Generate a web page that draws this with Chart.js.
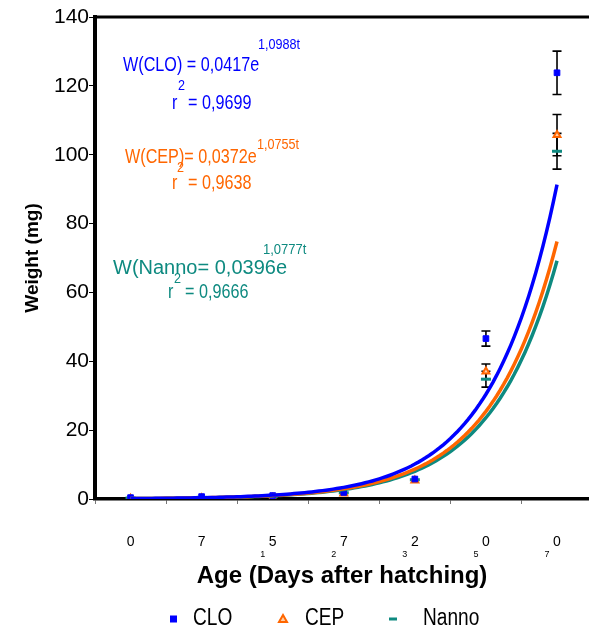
<!DOCTYPE html>
<html>
<head>
<meta charset="utf-8">
<script src="https://cdn.jsdelivr.net/npm/chart.js@4.4.0/dist/chart.umd.min.js"></script>
<style>
  html, body { margin: 0; padding: 0; background: #fff; }
</style>
</head>
<body>
<canvas id="growthChart" width="589" height="630"></canvas>
<script>
// sampling index t (1..7) and the day labels printed under the axis
const ages = [1, 2, 3, 4, 5, 6, 7];
const dayLabels = ["0", "7", "15", "27", "32", "50", "70"];
const yTicks = [0, 20, 40, 60, 80, 100, 120, 140];

// mean larval weight (mg) and error
const cloMean = [0.4, 0.7, 1.0, 1.9, 5.8, 46.6, 123.8];
const cloErr = [0.2, 0.2, 0.2, 0.3, 0.4, 2.2, 6.3];
const cepMean = [0.1, 0.2, 0.3, 1.6, 5.4, 37.0, 105.7];
const cepErr = [0.1, 0.1, 0.1, 0.3, 0.4, 2.2, 6.0];
const nannoMean = [0.3, 0.5, 0.7, 1.8, 5.6, 34.8, 101.0];
const nannoErr = [0.1, 0.1, 0.1, 0.3, 0.4, 2.3, 5.2];

// exponential fits W = a*e^(b*t) as drawn (orange curve sits above teal one)
const fitA = [0.0417, 0.0396, 0.0372];
const fitB = [1.0988, 1.0777, 1.0755];

const BLUE = "#0000ff", ORANGE = "#ff6600", TEAL = "#0e8a80";
const SANS = '"Liberation Sans", Arial, sans-serif';

function fitCurve(k) {
  const pts = [];
  for (let i = 0; i <= 120; i++) {
    const t = 1 + i * 0.05;
    pts.push({ x: t, y: fitA[k] * Math.exp(fitB[k] * t) });
  }
  return pts;
}
function points(arr) { return ages.map((t, i) => ({ x: t, y: arr[i] })); }

// error bars go under the markers
const errorBars = {
  id: "errorBars",
  beforeDatasetsDraw(chart) {
    const { ctx, scales: { x, y } } = chart;
    ctx.save();
    ctx.strokeStyle = "#000";
    ctx.lineWidth = 1.6;
    [[cloMean, cloErr], [cepMean, cepErr], [nannoMean, nannoErr]].forEach(([m, e]) => {
      ages.forEach((t, i) => {
        if (e[i] < 1) return;
        const px = x.getPixelForValue(t);
        const top = y.getPixelForValue(m[i] + e[i]);
        const bot = y.getPixelForValue(m[i] - e[i]);
        ctx.beginPath();
        ctx.moveTo(px, top); ctx.lineTo(px, bot);
        ctx.moveTo(px - 4.5, top); ctx.lineTo(px + 4.5, top);
        ctx.moveTo(px - 4.5, bot); ctx.lineTo(px + 4.5, bot);
        ctx.stroke();
      });
    });
    ctx.restore();
  }
};

// text squeezed horizontally like the original condensed face
function txt(ctx, s, x, y, size, sx, color) {
  ctx.save();
  ctx.font = size + "px " + SANS;
  ctx.fillStyle = color;
  ctx.textAlign = "left";
  ctx.textBaseline = "middle";
  ctx.translate(x, y);
  ctx.scale(sx, 1);
  ctx.fillText(s, 0, 0);
  ctx.restore();
}

const decorations = {
  id: "decorations",
  afterDraw(chart) {
    const { ctx, chartArea, scales: { x } } = chart;
    ctx.save();
    // thick top frame
    ctx.strokeStyle = "#000";
    ctx.lineWidth = 3;
    ctx.beginPath();
    ctx.moveTo(chartArea.left, chartArea.top);
    ctx.lineTo(chart.width, chartArea.top);
    ctx.stroke();

    // small leading digits of the day labels
    ages.forEach((t, i) => {
      const sub = dayLabels[i].slice(0, -1);
      if (!sub) return;
      ctx.font = "9px " + SANS;
      ctx.fillStyle = "#000";
      ctx.textAlign = "center";
      ctx.textBaseline = "middle";
      ctx.fillText(sub, x.getPixelForValue(t) - 10, 555);
    });
    ctx.restore();

    // equations
    txt(ctx, "W(CLO) = 0,0417e", 123, 65, 21, 0.77, BLUE);
    txt(ctx, "1,0988t", 258, 45, 15, 0.84, BLUE);
    txt(ctx, "r", 172, 103, 21, 0.77, BLUE);
    txt(ctx, "2", 178, 86, 15, 0.84, BLUE);
    txt(ctx, "= 0,9699", 188, 103, 21, 0.77, BLUE);

    txt(ctx, "W(CEP)= 0,0372e", 125, 157, 21, 0.77, ORANGE);
    txt(ctx, "1,0755t", 257, 145, 15, 0.84, ORANGE);
    txt(ctx, "r", 172, 183, 21, 0.77, ORANGE);
    txt(ctx, "2", 177, 168, 15, 0.84, ORANGE);
    txt(ctx, "= 0,9638", 188, 183, 21, 0.77, ORANGE);

    txt(ctx, "W(Nanno= 0,0396e", 113, 268, 20, 1, TEAL);
    txt(ctx, "1,0777t", 263, 250, 14, 0.93, TEAL);
    txt(ctx, "r", 168, 292, 21, 0.77, TEAL);
    txt(ctx, "2", 174, 279, 15, 0.84, TEAL);
    txt(ctx, "= 0,9666", 185, 292, 21, 0.77, TEAL);

    // legend
    const ly = 619;
    ctx.save();
    ctx.fillStyle = BLUE;
    ctx.fillRect(170, ly - 3.5, 7, 7);
    ctx.fillStyle = "#ffd0a8";
    ctx.strokeStyle = ORANGE;
    ctx.lineWidth = 2;
    ctx.beginPath();
    ctx.moveTo(283, ly - 4); ctx.lineTo(287, ly + 3); ctx.lineTo(279, ly + 3); ctx.closePath();
    ctx.fill(); ctx.stroke();
    ctx.fillStyle = TEAL;
    ctx.fillRect(389, ly - 1.5, 8, 3);
    ctx.restore();
    txt(ctx, "CLO", 193, ly, 23, 0.83, "#000");
    txt(ctx, "CEP", 305, ly, 23, 0.83, "#000");
    txt(ctx, "Nanno", 423, ly, 23, 0.83, "#000");
  }
};

new Chart(document.getElementById("growthChart"), {
  type: "line",
  data: {
    datasets: [
      { data: fitCurve(0), borderColor: BLUE, borderWidth: 3.5, pointRadius: 0, fill: false },
      { data: fitCurve(1), borderColor: ORANGE, borderWidth: 3.5, pointRadius: 0, fill: false },
      { data: fitCurve(2), borderColor: TEAL, borderWidth: 3.5, pointRadius: 0, fill: false },
      { label: "CLO", data: points(cloMean), showLine: false, pointStyle: "rect",
        pointRadius: 4, backgroundColor: BLUE, borderColor: BLUE, borderWidth: 1 },
      { label: "CEP", data: points(cepMean), showLine: false, pointStyle: "triangle",
        pointRadius: 4, backgroundColor: "#ffd0a8", borderColor: ORANGE, borderWidth: 2 },
      { label: "Nanno", data: points(nannoMean), showLine: false, pointStyle: "line",
        pointRadius: 5, borderColor: TEAL, borderWidth: 3 }
    ]
  },
  options: {
    responsive: false,
    animation: false,
    devicePixelRatio: 1,
    layout: { autoPadding: false, padding: { left: 0, right: 0, top: 17, bottom: 33 } },
    plugins: { legend: { display: false }, tooltip: { enabled: false } },
    scales: {
      x: {
        type: "linear",
        min: 0.5,
        max: 7.45,
        afterBuildTicks: (s) => { s.ticks = ages.map(v => ({ value: v })); },
        afterFit: (s) => { s.height = 98; s.paddingLeft = 0; s.paddingRight = 0; },
        ticks: {
          autoSkip: false,
          maxRotation: 0,
          padding: 30,
          color: "#000",
          font: { family: SANS, size: 14 },
          callback: (v, i) => dayLabels[i].slice(-1)
        },
        grid: { offset: true, drawOnChartArea: false, tickLength: 5, color: "#777" },
        border: { color: "#000", width: 3.5 },
        title: {
          display: true,
          text: "Age (Days after hatching)",
          color: "#000",
          font: { family: SANS, size: 24, weight: "bold" },
          padding: { top: 0, bottom: 6 }
        }
      },
      y: {
        min: 0,
        max: 140,
        afterBuildTicks: (s) => { s.ticks = yTicks.map(v => ({ value: v })); },
        afterFit: (s) => { s.width = 95; },
        ticks: {
          padding: 0,
          color: "#000",
          font: { family: SANS, size: 21 }
        },
        grid: { drawOnChartArea: false, tickLength: 6, color: "#000" },
        border: { color: "#000", width: 4 },
        title: {
          display: true,
          text: "Weight (mg)",
          color: "#000",
          font: { family: SANS, size: 19, weight: "bold" },
          padding: { top: 21, bottom: 0 }
        }
      }
    }
  },
  plugins: [errorBars, decorations]
});
</script>
</body>
</html>
